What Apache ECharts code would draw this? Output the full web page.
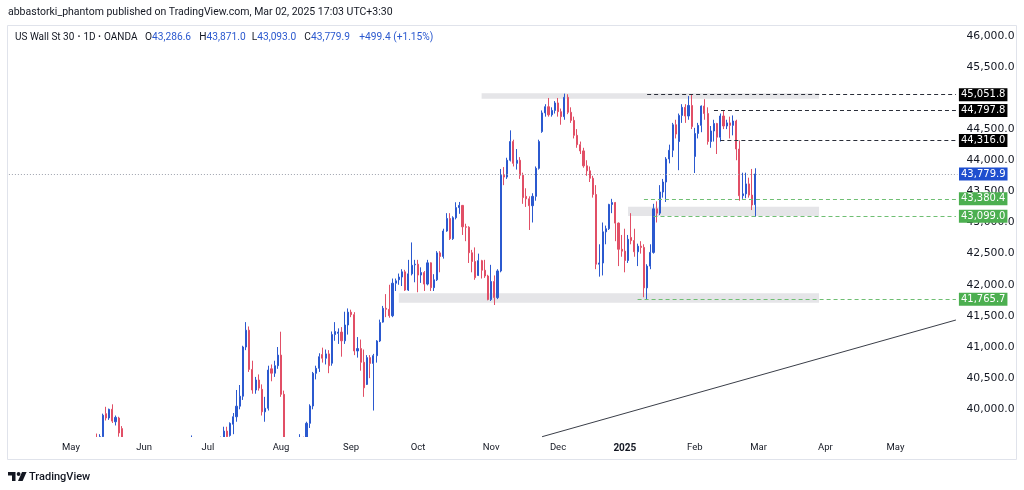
<!DOCTYPE html>
<html>
<head>
<meta charset="utf-8">
<script src="https://cdn.jsdelivr.net/npm/echarts@6/dist/echarts.min.js"></script>
<style>
html,body{margin:0;padding:0;background:#fff;}
#chart{width:1024px;height:490px;}
</style>
</head>
<body>
<div id="chart"></div>
<script>
// ---- trading days (categories) ----
const dates = [
 '2024-04-04','2024-04-05','2024-04-08','2024-04-09','2024-04-10','2024-04-11','2024-04-12','2024-04-15','2024-04-16','2024-04-17','2024-04-18','2024-04-19','2024-04-22','2024-04-23','2024-04-24','2024-04-25','2024-04-26','2024-04-29','2024-04-30',
 '2024-05-01','2024-05-02','2024-05-03','2024-05-06','2024-05-07','2024-05-08','2024-05-09','2024-05-10','2024-05-13','2024-05-14','2024-05-15','2024-05-16','2024-05-17','2024-05-20','2024-05-21','2024-05-22','2024-05-23','2024-05-24','2024-05-27','2024-05-28','2024-05-29','2024-05-30','2024-05-31',
 '2024-06-03','2024-06-04','2024-06-05','2024-06-06','2024-06-07','2024-06-10','2024-06-11','2024-06-12','2024-06-13','2024-06-14','2024-06-17','2024-06-18','2024-06-19','2024-06-20','2024-06-21','2024-06-24','2024-06-25','2024-06-26','2024-06-27','2024-06-28',
 '2024-07-01','2024-07-02','2024-07-03','2024-07-04','2024-07-05','2024-07-08','2024-07-09','2024-07-10','2024-07-11','2024-07-12','2024-07-15','2024-07-16','2024-07-17','2024-07-18','2024-07-19','2024-07-22','2024-07-23','2024-07-24','2024-07-25','2024-07-26','2024-07-29','2024-07-30','2024-07-31',
 '2024-08-01','2024-08-02','2024-08-05','2024-08-06','2024-08-07','2024-08-08','2024-08-09','2024-08-12','2024-08-13','2024-08-14','2024-08-15','2024-08-16','2024-08-19','2024-08-20','2024-08-21','2024-08-22','2024-08-23','2024-08-26','2024-08-27','2024-08-28','2024-08-29','2024-08-30',
 '2024-09-02','2024-09-03','2024-09-04','2024-09-05','2024-09-06','2024-09-09','2024-09-10','2024-09-11','2024-09-12','2024-09-13','2024-09-16','2024-09-17','2024-09-18','2024-09-19','2024-09-20','2024-09-23','2024-09-24','2024-09-25','2024-09-26','2024-09-27','2024-09-30',
 '2024-10-01','2024-10-02','2024-10-03','2024-10-04','2024-10-07','2024-10-08','2024-10-09','2024-10-10','2024-10-11','2024-10-14','2024-10-15','2024-10-16','2024-10-17','2024-10-18','2024-10-21','2024-10-22','2024-10-23','2024-10-24','2024-10-25','2024-10-28','2024-10-29','2024-10-30','2024-10-31',
 '2024-11-01','2024-11-04','2024-11-05','2024-11-06','2024-11-07','2024-11-08','2024-11-11','2024-11-12','2024-11-13','2024-11-14','2024-11-15','2024-11-18','2024-11-19','2024-11-20','2024-11-21','2024-11-22','2024-11-25','2024-11-26','2024-11-27','2024-11-28','2024-11-29',
 '2024-12-02','2024-12-03','2024-12-04','2024-12-05','2024-12-06','2024-12-09','2024-12-10','2024-12-11','2024-12-12','2024-12-13','2024-12-16','2024-12-17','2024-12-18','2024-12-19','2024-12-20','2024-12-23','2024-12-24','2024-12-26','2024-12-27','2024-12-30','2024-12-31',
 '2025-01-02','2025-01-03','2025-01-06','2025-01-07','2025-01-08','2025-01-09','2025-01-10','2025-01-13','2025-01-14','2025-01-15','2025-01-16','2025-01-17','2025-01-20','2025-01-21','2025-01-22','2025-01-23','2025-01-24','2025-01-27','2025-01-28','2025-01-29','2025-01-30','2025-01-31',
 '2025-02-03','2025-02-04','2025-02-05','2025-02-06','2025-02-07','2025-02-10','2025-02-11','2025-02-12','2025-02-13','2025-02-14','2025-02-17','2025-02-18','2025-02-19','2025-02-20','2025-02-21','2025-02-24','2025-02-25','2025-02-26','2025-02-27','2025-02-28'
];
// empty future slots on the time scale
const futureDates = [
 '2025-03-03','2025-03-04','2025-03-05','2025-03-06','2025-03-07','2025-03-10','2025-03-11','2025-03-12','2025-03-13','2025-03-14','2025-03-17','2025-03-18','2025-03-19','2025-03-20','2025-03-21','2025-03-24','2025-03-25','2025-03-26','2025-03-27','2025-03-28','2025-03-31',
 '2025-04-01','2025-04-02','2025-04-03','2025-04-04','2025-04-07','2025-04-08','2025-04-09','2025-04-10','2025-04-11','2025-04-14','2025-04-15','2025-04-16','2025-04-17','2025-04-18','2025-04-21','2025-04-22','2025-04-23','2025-04-24','2025-04-25','2025-04-28','2025-04-29','2025-04-30',
 '2025-05-01','2025-05-02','2025-05-05','2025-05-06','2025-05-07','2025-05-08','2025-05-09','2025-05-12','2025-05-13','2025-05-14','2025-05-15','2025-05-16','2025-05-19','2025-05-20','2025-05-21','2025-05-22','2025-05-23','2025-05-26','2025-05-27','2025-05-28'
];
// ---- daily candles [open, high, low, close] ----
const ohlc = [
 [39200,39420,38580,38600],[38640,39010,38580,38900],[38920,39020,38860,38890],[38900,38960,38650,38880],[38600,38620,38300,38460],[38450,38520,38180,38460],[38300,38330,37920,37980],[38100,38300,37700,37740],[37750,37900,37610,37800],[37850,37950,37650,37750],[37800,38000,37630,37780],[37800,38050,37700,37990],[38050,38300,37950,38240],[38250,38550,38200,38500],[38500,38520,38200,38460],[38200,38250,37800,38090],[38100,38300,38050,38240],[38250,38400,38150,38390],[38350,38400,37810,37820],
 [37820,38350,37800,37900],[37950,38250,37850,38230],[38500,38750,38450,38680],[38700,38900,38650,38850],[38880,39000,38800,38880],[38850,39100,38800,39060],[39060,39400,39000,39390],[39400,39540,39350,39510],[39520,39610,39300,39430],[39440,39600,39400,39560],[39560,39930,39500,39905],[39930,40040,39820,39860],[39860,40010,39830,40000],[40000,40080,39780,39810],[39800,39900,39740,39870],[39860,39880,39560,39620],[39690,39730,38960,39060],[39100,39200,38900,39070],[39080,39150,39000,39100],[39050,39100,38700,38850],[38800,38850,38350,38440],[38450,38550,38000,38110],[38150,38700,38000,38690],
 [38700,38800,38300,38570],[38550,38750,38450,38710],[38750,38900,38600,38810],[38800,38950,38750,38890],[38850,39000,38650,38800],[38750,38900,38600,38870],[38800,38850,38500,38750],[38900,39100,38700,38710],[38700,38750,38400,38650],[38600,38650,38350,38590],[38600,38850,38500,38780],[38800,38900,38700,38830],[38830,38900,38800,38850],[38850,39250,38800,39130],[39150,39350,39050,39150],[39170,39580,39150,39410],[39400,39450,39000,39110],[39100,39200,38950,39130],[39130,39250,39000,39160],[39200,39500,39100,39120],
 [39150,39300,38950,39170],[39150,39350,39050,39330],[39330,39450,39250,39350],[39350,39420,39320,39400],[39400,39560,39300,39480],[39480,39720,39450,39650],[39650,39720,39480,39560],[39580,39790,39560,39775],[39760,39940,39600,39880],[39880,40310,39800,40050],[40050,40390,40000,40210],[40210,41020,40150,41000],[41000,41400,40950,41270],[41270,41330,40600,40640],[40640,40780,40250,40310],[40310,40520,40250,40470],[40470,40560,40300,40340],[40320,40400,39900,39960],[39960,40200,39800,40016],[40016,40700,39980,40630],[40650,40720,40450,40580],[40580,40780,40520,40700],[40700,41000,40650,40870],
 [40870,41246,40200,40240],[40240,40300,39300,39450],[39400,39500,38400,38700],[38700,39300,38650,39000],[39000,39500,38700,38760],[38760,39470,38700,39440],[39440,39600,39250,39500],[39500,39560,39250,39370],[39370,39800,39350,39775],[39775,40080,39700,40053],[40053,40600,40000,40578],[40578,40700,40480,40658],[40658,40900,40600,40845],[40880,40990,40750,40820],[40820,40960,40720,40890],[40890,40950,40580,40700],[40740,41250,40700,41200],[41200,41400,41100,41250],[41220,41300,41050,41240],[41240,41320,40845,41100],[41100,41567,41050,41354],[41354,41620,41200,41560],
 [41560,41600,41480,41520],[41520,41560,40870,40937],[40937,41160,40830,40975],[40975,41120,40620,40755],[40755,40960,40200,40345],[40400,40870,40390,40830],[40830,40870,40500,40737],[40737,40890,39980,40861],[40861,41110,40750,41097],[41097,41440,41080,41394],[41400,41660,41390,41622],[41622,41850,41480,41606],[41606,42000,41470,41503],[41503,42100,41480,42025],[42025,42100,41900,42063],[42080,42180,42000,42124],[42124,42250,41980,42208],[42208,42240,41900,41915],[41915,42400,41900,42175],[42175,42680,42150,42313],[42320,42400,42040,42330],
 [42330,42400,41880,42156],[42156,42280,42030,42196],[42196,42220,41900,42011],[42011,42400,41990,42352],[42352,42360,41900,41954],[41954,42170,41900,42080],[42080,42540,42060,42512],[42512,42540,42200,42454],[42454,42900,42420,42863],[42863,43150,42850,43065],[43065,43150,42720,42740],[42740,43100,42720,43077],[43077,43325,43050,43239],[43239,43330,43140,43275],[43275,43280,42800,42931],[42931,42980,42700,42924],[42924,42940,42350,42514],[42514,42560,42200,42374],[42374,42600,42080,42114],[42150,42500,42140,42387],[42387,42400,42100,42233],[42233,42400,42110,42141],[42141,42160,41750,41763],
 [41763,42320,41740,42052],[42052,42150,41675,41794],[41794,42250,41770,42222],[42222,43860,42200,43760],[43760,43890,43600,43730],[43730,44040,43700,44000],[44000,44480,43980,44300],[44300,44330,43900,43950],[43950,44180,43850,44000],[44000,44050,43700,43760],[43760,43800,43300,43400],[43420,43550,43250,43380],[43380,43420,42880,43270],[43270,43470,43000,43420],[43420,43900,43350,43870],[43870,44330,43850,44300],[44460,44800,44440,44760],[44760,44900,44700,44860],[44860,45000,44700,44730],[44730,44850,44700,44800],[44800,44950,44750,44920],
 [44920,45000,44700,44780],[44780,44830,44570,44700],[44700,45070,44650,45010],[45010,45060,44740,44770],[44770,44850,44600,44640],[44640,44700,44350,44400],[44400,44500,44200,44250],[44250,44300,44100,44150],[44150,44200,43880,43910],[43910,44000,43750,43830],[43830,43900,43650,43710],[43710,43750,43400,43450],[43450,43600,42250,42330],[42330,42650,42130,42350],[42350,43000,42150,42850],[42850,42950,42650,42900],[42900,43300,42880,43290],[43290,43380,43150,43320],[43320,43330,42700,42990],[42990,43000,42300,42570],[42570,42800,42450,42540],
 [42540,42900,42200,42390],[42390,42800,42350,42730],[42760,43150,42650,42710],[42710,42900,42450,42530],[42530,42660,42300,42620],[42620,42700,42500,42600],[42600,42650,41800,41950],[41950,42330,41765.7,42300],[42300,42650,42250,42520],[42520,43300,42500,43220],[43220,43340,43000,43150],[43150,43600,43120,43490],[43490,43700,43400,43650],[43650,44050,43330,44020],[44020,44250,43950,44160],[44160,44600,44050,44570],[44570,44650,44350,44420],[44300,44750,43840,44720],[44720,44900,44600,44850],[44850,44900,44600,44710],[44710,45030,44650,44880],[44880,45051.8,44500,44540],
 [44060,44520,43795,44430],[44430,44600,44350,44560],[44560,44880,44450,44870],[44870,44980,44650,44750],[44750,44850,44250,44300],[44300,44550,44200,44470],[44470,44650,44300,44590],[44590,44600,44100,44370],[44370,44750,44300,44710],[44710,44797.8,44500,44550],[44550,44650,44500,44600],[44600,44700,44350,44560],[44560,44720,44400,44630],[44630,44650,44000,44180],[44180,44316,43350,43430],[43430,43800,43380.4,43460],[43460,43800,43390,43620],[43620,43720,43400,43440],[43440,43860,43200,43280.5],[43286.6,43871,43093,43779.9]
];
// price-axis tick labels (45,000.0 is hidden behind the level tags in the source)
const yTicks = [40000,40500,41000,41500,42000,42500,43000,43500,44000,44500,45500,46000];
// horizontal rays drawn on the chart: price, start day, colour kind
const levelPrices = [45051.8, 44797.8, 44316.0, 43380.4, 43099.0, 41765.7];
const levelStarts = ['2025-01-13','2025-02-11','2025-02-13','2025-01-10','2025-01-15','2025-01-08'];
const levelKinds  = ['black','black','black','green','green','green'];
// grey zones: [start day, end day, low, high]
const zones = [
 ['2024-10-29','2025-03-28',44988,45074],
 ['2025-01-03','2025-03-28',43105,43254],
 ['2024-09-23','2025-03-28',41712,41863]
];
// rising trend line: two anchor points [day, price]
const trendLine = [['2024-11-25',39560],['2025-05-28',41434]];
const lastPrice = 43779.9;
const legendKeys = ['O','H','L','C',''];
const legendVals = ['43,286.6','43,871.0','43,093.0','43,779.9','+499.4 (+1.15%)'];

const BLUE = '#2b59cf', RED = '#e14f66', GREEN = '#4caf50', INK = '#131722';
const FONT = 'Roboto, "Noto Sans", sans-serif';
const AXFONT = '"DejaVu Sans", Verdana, sans-serif';
const categories = dates.concat(futureDates);
const candleData = ohlc.map(d => [d[0], d[3], d[2], d[1]]);
function fmt(v) {
  const s = v.toFixed(1);
  const [ip, dp] = s.split('.');
  return ip.replace(/\B(?=(\d{3})+(?!\d))/g, ',') + '.' + dp;
}
const monthStarts = new Set();
for (let i = 1; i < categories.length; i++) {
  if (categories[i].slice(0, 7) !== categories[i - 1].slice(0, 7)) monthStarts.add(i);
}
const MONTHS = ['Jan','Feb','Mar','Apr','May','Jun','Jul','Aug','Sep','Oct','Nov','Dec'];
const lastCat = categories[categories.length - 1];

const tagLabel = (text, bg) => ({
  show: true, position: 'end', distance: 3, formatter: text, color: '#fff',
  backgroundColor: bg, padding: [2, 2, 1, 2], fontSize: 10, fontFamily: AXFONT
});
const markLines = [];
levelPrices.forEach((p, k) => {
  const black = levelKinds[k] === 'black';
  markLines.push([
    { coord: [levelStarts[k], p],
      lineStyle: { color: black ? '#2a2e39' : '#6fbf73', width: 1, type: [4, 3] },
      label: tagLabel(fmt(p), black ? '#000' : GREEN) },
    { coord: [lastCat, p] }
  ]);
});
markLines.push({
  yAxis: lastPrice,
  lineStyle: { color: '#9ea2ad', width: 1, type: [1, 2] },
  label: Object.assign(tagLabel(fmt(lastPrice), '#1f4fcf'), { distance: 1.5 })
});
markLines.push([
  { coord: trendLine[0], lineStyle: { color: '#3a3e48', width: 1, type: 'solid' }, label: { show: false } },
  { coord: trendLine[1] }
]);

const txt = (text, x, y, font, fill, extra) => ({
  type: 'text', z: 20,
  style: Object.assign({ text, x, y, font, fill, textVerticalAlign: 'middle', verticalAlign: 'middle' }, extra || {})
});
const HF = '10px ' + FONT;

const chart = echarts.init(document.getElementById('chart'), null, { renderer: 'canvas' });
chart.setOption({
  animation: false,
  backgroundColor: '#ffffff',
  grid: { left: 8.9, right: 66.5, top: 25, bottom: 53, containLabel: false },
  xAxis: {
    type: 'category', data: categories, boundaryGap: true, z: 10,
    axisLine: { show: false }, axisTick: { show: false }, splitLine: { show: false },
    axisLabel: {
      interval: (idx) => monthStarts.has(idx),
      formatter: (v) => {
        const m = +v.slice(5, 7);
        return m === 1 ? '{b|' + v.slice(0, 4) + '}' : MONTHS[m - 1];
      },
      color: INK, fontSize: 9.5, fontFamily: FONT, margin: 6,
      rich: { b: { fontWeight: 'bold', fontSize: 10, color: INK, fontFamily: FONT } }
    }
  },
  yAxis: {
    type: 'value', position: 'right', min: 39555, max: 46172,
    axisLine: { show: false }, axisTick: { show: false }, splitLine: { show: false },
    axisLabel: {
      customValues: yTicks, formatter: (v) => fmt(v), color: INK,
      fontSize: 10.8, fontFamily: AXFONT, align: 'left', margin: 9
    }
  },
  series: [{
    type: 'candlestick', data: candleData, barWidth: 1.6, clip: true,
    itemStyle: { color: BLUE, color0: RED, borderColor: BLUE, borderColor0: RED, borderWidth: 1 },
    markArea: {
      silent: true,
      itemStyle: { color: 'rgba(150,153,162,0.25)' },
      data: zones.map(z => [{ xAxis: z[0], yAxis: z[3] }, { xAxis: z[1], yAxis: z[2] }])
    },
    markLine: { silent: true, symbol: ['none', 'none'], animation: false, data: markLines }
  }],
  graphic: [
    // white band under the plot: hides candle parts that fall below the visible price range
    { type: 'rect', z: 5, shape: { x: 0, y: 437, width: 958, height: 53 }, style: { fill: '#ffffff' } },
    { type: 'rect', z: 20, shape: { x: 7.5, y: 25.5, width: 1009, height: 434 },
      style: { fill: 'none', stroke: '#e0e3eb', lineWidth: 1 } },
    txt('abbastorki_phantom published on TradingView.com, Mar 02, 2025 17:03 UTC+3:30', 8, 12, '10.5px ' + FONT, INK),
    txt('US Wall St 30', 15, 37, HF, INK),
    txt('·', 79, 37, 'bold ' + HF, INK, { textAlign: 'center', align: 'center' }),
    txt('1D', 83.5, 37, HF, INK),
    txt('·', 99.5, 37, 'bold ' + HF, INK, { textAlign: 'center', align: 'center' }),
    txt('OANDA', 104, 37, HF, INK),
    ...legendKeys.map((k, n) => txt((k ? '{k|' + k + '}' : '') + '{v|' + legendVals[n] + '}',
        [145, 199.3, 251.7, 304.3, 359.3][n], 37, '10.2px ' + FONT, INK,
        { rich: { k: { fill: INK, color: INK, font: '10.2px ' + FONT }, v: { fill: BLUE, color: BLUE, font: '10.2px ' + FONT } } })),
    { type: 'polygon', z: 20, shape: { points: [[8,472],[15.5,472],[15.5,481],[12,481],[12,475.5],[8,475.5]] }, style: { fill: INK } },
    { type: 'circle', z: 20, shape: { cx: 18.6, cy: 474, r: 1.9 }, style: { fill: INK } },
    { type: 'polygon', z: 20, shape: { points: [[22,472],[26.6,472],[22.6,481],[18,481]] }, style: { fill: INK } },
    txt('TradingView', 29, 477, '500 11px ' + FONT, INK)
  ]
});
</script>
</body>
</html>
